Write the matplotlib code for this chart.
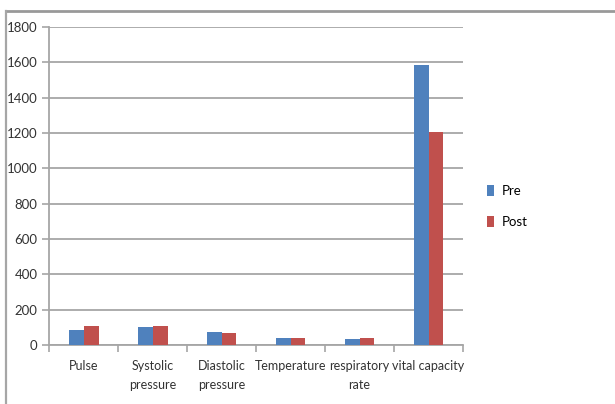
import matplotlib.pyplot as plt
import numpy as np
from matplotlib.lines import Line2D

# Pre / Post comparison of vital signs
categories = ["Pulse", "Systolic\npressure", "Diastolic\npressure",
              "Temperature", "respiratory\nrate", "vital capacity"]
pre = [86, 100, 72, 37, 32, 1583]
post = [106, 106, 66, 37, 38, 1204]

plt.rcParams['font.family'] = ['Lato', 'DejaVu Sans']

fig = plt.figure(figsize=(6.15, 4.04), dpi=100)
ax = fig.add_axes([0.080, 0.146, 0.673, 0.787])

x = np.arange(len(categories))
w = 0.215
ax.bar(x - w / 2, pre, w, color="#4F81BD", label="Pre", zorder=3)
ax.bar(x + w / 2, post, w, color="#C0504D", label="Post", zorder=3)

ax.set_xlim(-0.5, len(categories) - 0.5)
ax.set_ylim(0, 1800)
ax.set_yticks(range(0, 1801, 200))
ax.yaxis.grid(True, color="#A6A6A6", linewidth=1.3, zorder=0)

ax.set_xticks(x)
ax.set_xticklabels(categories, fontsize=9, color="#333333", linespacing=1.7)
ax.tick_params(axis="x", length=0, pad=11)
ax.set_xticks(np.arange(-0.5, len(categories)), minor=True)
ax.tick_params(axis="x", which="minor", length=5, color="#A6A6A6", width=1.2)
ax.tick_params(axis="y", length=5, color="#A6A6A6", width=1.2,
               labelsize=9.5, labelcolor="#333333")

for s in ["top", "right"]:
    ax.spines[s].set_visible(False)
for s in ["left", "bottom"]:
    ax.spines[s].set_color("#A6A6A6")
    ax.spines[s].set_linewidth(1.3)

ax.legend(loc="center left", bbox_to_anchor=(1.03, 0.435), frameon=False,
          fontsize=9.5, handlelength=0.5, handleheight=0.9, labelspacing=1.4,
          handletextpad=0.6)

# outer chart border (top and left edges visible)
fig.add_artist(Line2D([0.009, 1.0], [0.974, 0.974], transform=fig.transFigure,
                      color="#999999", linewidth=2.0))
fig.add_artist(Line2D([0.009, 0.009], [0.0, 0.974], transform=fig.transFigure,
                      color="#A6A6A6", linewidth=1.6))

plt.savefig("out.png", dpi=100)
